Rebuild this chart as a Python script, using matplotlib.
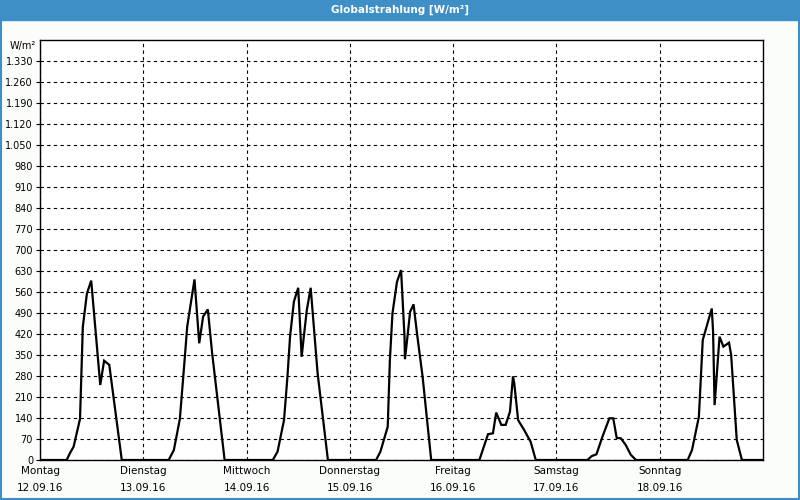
import matplotlib
matplotlib.use("Agg")
import matplotlib.pyplot as plt
import matplotlib.patches as mpatches
import numpy as np

# ── Data (hour of day, W/m²) per day ─────────────────────────────────────────
day_names = ["Montag", "Dienstag", "Mittwoch", "Donnerstag", "Freitag", "Samstag", "Sonntag"]
day_dates = ["12.09.16", "13.09.16", "14.09.16", "15.09.16", "16.09.16", "17.09.16", "18.09.16"]

mon_h = [6.2, 7.0, 7.8, 9.3, 9.95, 10.9, 11.9, 14.0, 14.9, 16.1, 19.0]
mon_v = [0, 24, 44, 137, 444, 555, 598, 250, 331, 317, 0]

tue_h = [5.9, 7.1, 8.5, 9.6, 10.2, 11.9, 13.0, 13.9, 15.0, 16.0, 18.9]
tue_v = [0, 33, 137, 333, 444, 602, 389, 478, 502, 356, 0]

wed_h = [6.1, 7.2, 8.7, 9.5, 10.1, 11.0, 12.0, 12.8, 13.3, 14.0, 14.9, 16.5, 18.9]
wed_v = [0, 28, 133, 278, 411, 528, 574, 344, 411, 500, 574, 290, 0]

thu_h = [6.1, 7.1, 8.8, 9.3, 9.9, 10.95, 11.9, 12.7, 12.8, 13.3, 14.0, 14.8, 15.6, 16.9, 18.9]
thu_v = [0, 28, 111, 333, 489, 594, 633, 411, 336, 400, 494, 519, 422, 278, 0]

fri_h = [6.1, 8.1, 9.25, 10.0, 11.2, 12.2, 13.2, 13.9, 14.2, 15.1, 16.5, 18.0, 19.2]
fri_v = [0, 86, 89, 158, 117, 117, 161, 278, 256, 133, 100, 61, 0]

sat_h = [7.2, 8.2, 9.3, 10.7, 12.3, 13.2, 14.0, 15.0, 16.1, 17.3, 18.5]
sat_v = [0, 13, 19, 78, 139, 139, 74, 72, 50, 17, 0]

sun_h = [6.5, 7.5, 9.1, 10.0, 12.1, 12.4, 12.75, 13.9, 14.8, 16.1, 16.6, 17.9, 19.1]
sun_v = [0, 33, 144, 400, 505, 428, 183, 411, 378, 391, 350, 67, 0]

days_h = [mon_h, tue_h, wed_h, thu_h, fri_h, sat_h, sun_h]
days_v = [mon_v, tue_v, wed_v, thu_v, fri_v, sat_v, sun_v]

y_ticks = list(range(0, 1331, 70))

# build a continuous series in "days since Monday"
xs, ys = [0.0], [0.0]
for i, (hh, vv) in enumerate(zip(days_h, days_v)):
    xs += [i + h / 24.0 for h in hh]
    ys += vv
xs.append(7.0)
ys.append(0.0)

# ── Figure ──────────────────────────────────────────────────────────────────
BLUE = "#3d8fc6"
fig = plt.figure(figsize=(8, 5), dpi=100, facecolor="#fbfdfb")

# title bar + outer border
fig.patches.append(mpatches.Rectangle((0, 1 - 20 / 500), 1, 20 / 500,
                                      transform=fig.transFigure, color=BLUE, zorder=0))
fig.patches.append(mpatches.Rectangle((0.001, 0.002), 0.998, 0.996, transform=fig.transFigure,
                                      fill=False, edgecolor=BLUE, linewidth=1.5, zorder=0))
fig.text(0.5, 1 - 10 / 500, "Globalstrahlung [W/m²]", color="white", fontsize=7.5,
         fontweight="bold", ha="center", va="center")

ax = fig.add_axes([40 / 800, 40 / 500, 723 / 800, 420 / 500])
ax.set_facecolor("white")
ax.plot(xs, ys, color="black", linewidth=1.6, solid_joinstyle="miter")

ax.set_xlim(0, 7)
ax.set_ylim(0, 1400)
ax.set_yticks(y_ticks)
ax.set_yticklabels([f"{v:,}".replace(",", ".") for v in y_ticks], fontsize=7)
ax.set_xticks(range(7))
ax.set_xticklabels([f"{n}\n{d}" for n, d in zip(day_names, day_dates)],
                   fontsize=7.5, linespacing=1.9)
ax.tick_params(axis="y", length=3, pad=2, color="black")
ax.tick_params(axis="x", length=0, pad=4)

ax.grid(True, color="black", linestyle=(0, (3, 3)), linewidth=0.8)
for s in ax.spines.values():
    s.set_linewidth(1)
    s.set_color("black")

fig.text(10 / 800, 1 - 46 / 500, "W/m²", fontsize=7, ha="left", va="center")

fig.savefig("out.png", dpi=100, facecolor=fig.get_facecolor())
